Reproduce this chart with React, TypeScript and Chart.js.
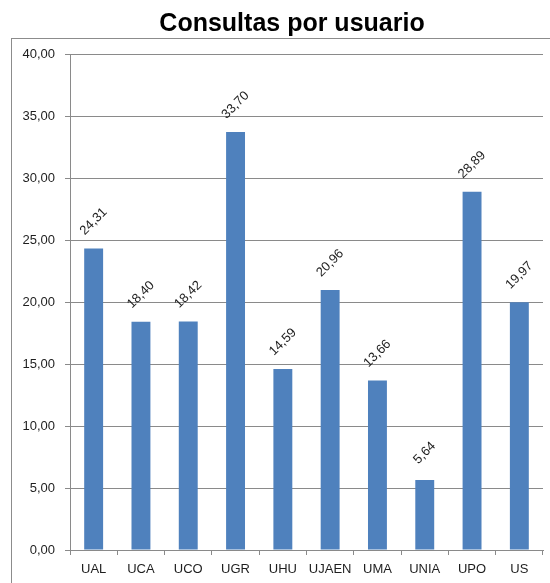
import React, { useEffect, useRef } from "react";
import { Chart, registerables } from "chart.js";

Chart.register(...registerables);

const TITLE = "Consultas por usuario";
const categories = ["UAL", "UCA", "UCO", "UGR", "UHU", "UJAEN", "UMA", "UNIA", "UPO", "US"];
const values = [24.31, 18.4, 18.42, 33.7, 14.59, 20.96, 13.66, 5.64, 28.89, 19.97];
const Y_MIN = 0;
const Y_MAX = 40;
const Y_STEP = 5;

const BAR_COLOR = "#4F81BD";
const GRID_COLOR = "#8a8a8a";
const TEXT_COLOR = "#1e1e1e";
const FONT_FAMILY = "'Liberation Sans', Arial, sans-serif";

const fmt = (v: number) => v.toFixed(2).replace(".", ",");

const decorPlugin = {
  id: "decor",
  beforeDraw(chart: any) {
    const ctx = chart.ctx;
    ctx.save();
    ctx.fillStyle = "#ffffff";
    ctx.fillRect(0, 0, chart.width, chart.height);
    ctx.strokeStyle = "#8c8c8c";
    ctx.lineWidth = 1;
    ctx.strokeRect(11.5, 38.5, chart.width + 20, chart.height + 20);
    ctx.fillStyle = "#000000";
    ctx.font = "bold 25px " + FONT_FAMILY;
    ctx.textAlign = "center";
    ctx.textBaseline = "alphabetic";
    ctx.fillText(TITLE, 292, 31);
    ctx.restore();
  },
  afterDatasetsDraw(chart: any) {
    const ctx = chart.ctx;
    const meta = chart.getDatasetMeta(0);
    ctx.save();
    ctx.fillStyle = TEXT_COLOR;
    ctx.font = "13px " + FONT_FAMILY;
    ctx.textAlign = "center";
    ctx.textBaseline = "middle";
    meta.data.forEach((bar: any, i: number) => {
      ctx.save();
      ctx.translate(bar.x, bar.y - 27);
      ctx.rotate(-Math.PI / 4);
      ctx.fillText(fmt(values[i]), 0, 0);
      ctx.restore();
    });
    ctx.restore();
  },
};

export default function App() {
  const ref = useRef<HTMLCanvasElement>(null);
  useEffect(() => {
    if (!ref.current) return;
    const chart = new Chart(ref.current, {
      type: "bar",
      data: {
        labels: categories,
        datasets: [
          {
            data: values,
            backgroundColor: BAR_COLOR,
            borderWidth: 0,
            categoryPercentage: 1,
            barPercentage: 0.4,
          },
        ],
      },
      options: {
        responsive: false,
        animation: false,
        devicePixelRatio: 1,
        layout: { padding: { top: 54, right: 7, left: 0, bottom: 0 } },
        plugins: { legend: { display: false }, tooltip: { enabled: false }, title: { display: false } },
        scales: {
          x: {
            grid: { display: true, drawOnChartArea: false, drawTicks: true, tickLength: 5, color: GRID_COLOR, offset: true },
            border: { display: true, color: GRID_COLOR },
            ticks: { color: TEXT_COLOR, font: { family: FONT_FAMILY, size: 13 }, padding: 7, maxRotation: 0, autoSkip: false },
            afterFit: (scale: any) => {
              scale.height = 33;
            },
          },
          y: {
            min: Y_MIN,
            max: Y_MAX,
            grid: { color: GRID_COLOR, drawTicks: true, tickLength: 5 },
            border: { display: true, color: GRID_COLOR },
            ticks: {
              stepSize: Y_STEP,
              color: TEXT_COLOR,
              font: { family: FONT_FAMILY, size: 13 },
              padding: 10,
              callback: (v: any) => fmt(Number(v)),
            },
            afterFit: (scale: any) => {
              scale.width = 70;
            },
          },
        },
      },
      plugins: [decorPlugin],
    });
    return () => chart.destroy();
  }, []);
  return (
    <div style={{ position: "fixed", left: 0, top: 0, width: 550, height: 583, background: "#fff" }}>
      <canvas ref={ref} width={550} height={583} style={{ display: "block" }} />
    </div>
  );
}
